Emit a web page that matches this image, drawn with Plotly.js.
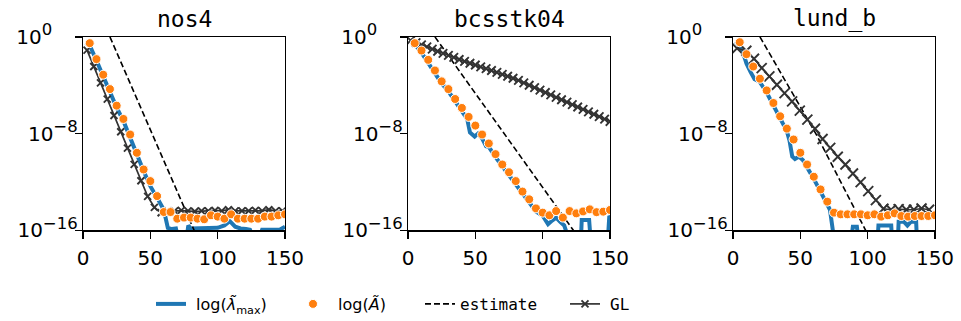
<!DOCTYPE html>
<html><head><meta charset="utf-8">
<script src="https://cdn.plot.ly/plotly-3.0.1.min.js"></script>
<style>body{margin:0;background:#fff}</style>
</head><body><div id="chart" style="width:961px;height:321px"></div>
<script>
// ---------- data (values as log10 exponents) ----------
const matrixNames = ['nos4', 'bcsstk04', 'lund_b'];
const dotIter = [5,10,15,20,25,30,35,40,45,50,55,60,65,70,75,80,85,90,95,100,105,110,115,120,125,130,135,140,145,150];

// nos4
const nos4_dotLog = [-0.52,-1.84,-3.13,-4.32,-5.69,-6.79,-8.08,-9.59,-10.97,-11.93,-13.17,-14.49,-14.49,-15.04,-14.95,-14.95,-15.04,-15.09,-14.76,-14.87,-15.04,-14.68,-15.04,-15.04,-15.04,-15.04,-14.87,-14.87,-14.76,-14.68];
const nos4_lineIter = [2,5,10,15,20,25,30,35,40,45,50,55,60,63,66,69,70.5,77,78.2,80,85,90,95,100,105,109,113,117,121,124,126,131,133,140,146,150];
const nos4_lineLog = [-0.5,-0.7,-1.95,-3.3,-4.5,-5.85,-6.95,-8.25,-9.7,-11.1,-12.35,-13.3,-14.3,-15.8,-15.9,-15.85,-16.6,-16.6,-15.6,-15.85,-15.85,-15.8,-15.85,-15.8,-15.6,-15.25,-15.7,-15.85,-15.9,-15.95,-16.6,-16.6,-15.95,-15.95,-15.95,-15.7];
const nos4_estIter = [20, 82.5];
const nos4_estLog = [0, -16];
const nos4_glIter = [3,8,13,18,23,28,33,38,43,48,53,58,63,68,73,78,83,88,93,98,103,108,113,118,123,128,133,138,143,148];
const nos4_glLog = [-1.1,-2.45,-3.8,-5.15,-6.5,-7.85,-9.2,-10.55,-11.9,-13.2,-14.1,-14.55,-14.4,-14.4,-14.35,-14.4,-14.45,-14.4,-14.4,-14.35,-14.4,-14.3,-14.4,-14.4,-14.4,-14.35,-14.4,-14.3,-14.4,-14.4];

// bcsstk04
const bcs_dotLog = [-0.52,-1.13,-1.90,-2.78,-3.68,-4.32,-5.14,-5.88,-6.62,-7.34,-8.08,-8.82,-9.70,-10.56,-11.2,-11.93,-12.8,-13.44,-14.19,-14.54,-14.76,-14.41,-14.95,-14.41,-14.6,-14.44,-14.27,-14.5,-14.46,-14.32];
const bcs_lineIter = [2,5,10,15,20,25,30,35,40,44,46,49.5,52,55,58,60,65,70,75,80,85,90,95,100,104,107,110,113,116,119,128.5,129,134.5,135.5,148.5,149.5,150];
const bcs_lineLog = [-0.3,-0.6,-1.3,-2.15,-2.95,-3.85,-4.5,-5.3,-6.05,-6.8,-7.9,-8.25,-8.0,-8.4,-9.05,-9.1,-9.95,-10.7,-11.4,-12.1,-12.95,-13.6,-14.45,-14.8,-15.5,-15.2,-14.95,-15.3,-15.6,-16.6,-16.6,-15.15,-15.15,-16.6,-16.6,-14.8,-14.9];
const bcs_estIter = [20, 122.8];
const bcs_estLog = [0, -16];
const bcs_glIter = [2,6,10,14,18,22,26,30,34,38,42,46,50,54,58,62,66,70,74,78,82,86,90,94,98,102,106,110,114,118,122,126,130,134,138,142,146,150];
const bcs_glLog = [-0.30,-0.48,-0.66,-0.83,-1.01,-1.19,-1.36,-1.53,-1.70,-1.87,-2.03,-2.18,-2.33,-2.48,-2.63,-2.78,-2.94,-3.10,-3.26,-3.42,-3.60,-3.80,-4.00,-4.20,-4.40,-4.60,-4.80,-5.00,-5.20,-5.40,-5.60,-5.80,-6.00,-6.20,-6.40,-6.60,-6.80,-7.00];

// lund_b
const lund_dotLog = [-0.44,-1.43,-2.45,-3.46,-4.43,-5.47,-6.57,-7.59,-8.49,-9.59,-10.56,-11.57,-12.62,-13.63,-14.54,-14.68,-14.68,-14.68,-14.68,-14.76,-14.68,-14.87,-14.76,-14.6,-14.82,-14.87,-14.82,-14.82,-14.82,-14.76];
const lund_lineIter = [2,5,8,10,13,16,18,20,25,30,35,40,42,44,46,49,52,55,60,65,70,72,74,75,88,89,92,93,107.5,108,117.5,118,122.5,123,127,129.5,132,136,136.5,150];
const lund_lineLog = [-0.4,-0.75,-1.5,-2.2,-2.9,-3.5,-3.6,-3.75,-4.6,-5.65,-6.75,-7.8,-8.6,-9.9,-10.1,-9.9,-10.2,-10.75,-11.75,-12.8,-13.9,-14.3,-15.9,-16.6,-16.6,-15.7,-15.7,-16.6,-16.6,-15.6,-15.6,-16.6,-16.6,-15.3,-15.3,-15.6,-15.3,-15.3,-16.6,-16.6];
const lund_estIter = [20, 62, 98.5];
const lund_estLog = [0, -8.1, -16];
const lund_glIter = [3,9.9,15.6,21.3,27,32.6,38.3,43.9,49.6,55.2,60.9,66.5,72.2,77.8,83.5,89.1,94.8,100.4,106.1,111.7,117.4,123,128.7,134.3,140,145.6];
const lund_glLog = [-0.95,-1.15,-1.81,-2.58,-3.27,-3.96,-4.65,-5.33,-6.1,-6.85,-7.6,-8.45,-9.18,-9.92,-10.56,-11.3,-12.02,-12.76,-13.5,-14.22,-14.3,-14.25,-14.3,-14.3,-14.2,-14.3];

const seriesNames = ['\u00a0log(<i>λ̃</i><sub>max</sub>)', '\u00a0log(<i>Ã</i>)', 'estimate', '<span style="font-family:\'DejaVu Sans\'">\u00a0</span>GL'];
const xTicks = [0, 50, 100, 150];
const yTickVals = [1e-16, 1e-8, 1];
const yTickExp = ['−16', '−8', '0'];

// ---------- build ----------
const sup = e => '10<sup><span style="font-size:16.5px">' + e + '</span></sup>';
const yTickText = yTickExp.map((e, i) => sup(e) + (e === '0' ? '\u00a0\u00a0\u00a0\u00a0' : ''));
const pow = a => a.map(v => Math.pow(10, v));
const panelData = [
  {line:[nos4_lineIter, nos4_lineLog], dot:nos4_dotLog, est:[nos4_estIter, nos4_estLog], gl:[nos4_glIter, nos4_glLog], glSize:7},
  {line:[bcs_lineIter, bcs_lineLog], dot:bcs_dotLog, est:[bcs_estIter, bcs_estLog], gl:[bcs_glIter, bcs_glLog], glSize:8.5},
  {line:[lund_lineIter, lund_lineLog], dot:lund_dotLog, est:[lund_estIter, lund_estLog], gl:[lund_glIter, lund_glLog], glSize:10}
];
const BLUE = '#1f77b4', ORANGE = '#ff7f0e', GL = '#333333';
const traces = [];
panelData.forEach((p, i) => {
  const xa = i === 0 ? 'x' : 'x' + (i + 1), ya = i === 0 ? 'y' : 'y' + (i + 1);
  const first = i === 0;
  traces.push({x:p.line[0], y:pow(p.line[1]), xaxis:xa, yaxis:ya, mode:'lines', name:seriesNames[0],
    line:{color:BLUE, width:4}, showlegend:first, legend:'legend'});
  traces.push({x:p.est[0], y:pow(p.est[1]), xaxis:xa, yaxis:ya, mode:'lines', name:seriesNames[2],
    line:{color:'#000', width:1.6, dash:'6px,3px'}, showlegend:first, legend:'legend3'});
  traces.push({x:p.gl[0], y:pow(p.gl[1]), xaxis:xa, yaxis:ya, mode:'lines+markers', name:seriesNames[3],
    line:{color:GL, width:1.7}, marker:{symbol:'x-thin', size:p.glSize, color:GL, line:{color:GL, width:1.9}},
    showlegend:first, legend:'legend4'});
  traces.push({x:dotIter, y:pow(p.dot), xaxis:xa, yaxis:ya, mode:'markers', name:seriesNames[1],
    marker:{color:ORANGE, size:9, line:{color:'#fff', width:1}}, showlegend:first, legend:'legend2'});
});

const W = 961, H = 321;
const xDom = [[83, 285], [408, 610], [733, 935]];
const yDom = [1 - 231 / H, 1 - 37 / H];
const tickFont = {family:'DejaVu Sans', size:20, color:'#000'};
const layout = {
  width:W, height:H, margin:{l:0, r:0, t:0, b:0},
  paper_bgcolor:'#fff', plot_bgcolor:'#fff', showlegend:true,
  annotations:[]
};
xDom.forEach((d, i) => {
  const s = i === 0 ? '' : String(i + 1);
  layout['xaxis' + s] = {domain:[d[0] / W, d[1] / W], anchor:'y' + s, range:[0, 150],
    showline:true, mirror:true, linecolor:'#000', linewidth:1.3, ticks:'outside', ticklen:7, tickwidth:1.3,
    tickcolor:'#000', tickvals:xTicks, ticktext:xTicks.map(String), showgrid:false, zeroline:false,
    tickfont:tickFont, ticklabelstandoff:2};
  layout['yaxis' + s] = {domain:yDom, anchor:'x' + s, type:'log', range:[-16, 0],
    showline:true, mirror:true, linecolor:'#000', linewidth:1.3, ticks:'outside', ticklen:7, tickwidth:1.3,
    tickcolor:'#000', tickvals:yTickVals, ticktext:yTickText, showgrid:false, zeroline:false,
    tickfont:tickFont, ticklabelstandoff:-7};
  layout.annotations.push({text:matrixNames[i], xref:'paper', yref:'paper', x:(d[0] + d[1]) / 2 / W,
    y:1 - 19 / H, xanchor:'center', yanchor:'middle', showarrow:false,
    font:{family:'DejaVu Sans Mono', size:23, color:'#000'}});
});
const legY = 1 - 305 / H;
const legBase = {orientation:'h', yanchor:'middle', y:legY, xanchor:'left', bgcolor:'rgba(0,0,0,0)',
  borderwidth:0, itemwidth:30, itemclick:false, itemdoubleclick:false};
layout.legend  = Object.assign({}, legBase, {x:151 / W, font:{family:'DejaVu Sans', size:16, color:'#000'}});
layout.legend2 = Object.assign({}, legBase, {x:293 / W, font:{family:'DejaVu Sans', size:16, color:'#000'}});
layout.legend3 = Object.assign({}, legBase, {x:420 / W, font:{family:'DejaVu Sans Mono', size:16, color:'#000'}});
layout.legend4 = Object.assign({}, legBase, {x:565 / W, font:{family:'DejaVu Sans Mono', size:16, color:'#000'}});

Plotly.newPlot('chart', traces, layout, {staticPlot:true, displayModeBar:false});
</script>
</body></html>
